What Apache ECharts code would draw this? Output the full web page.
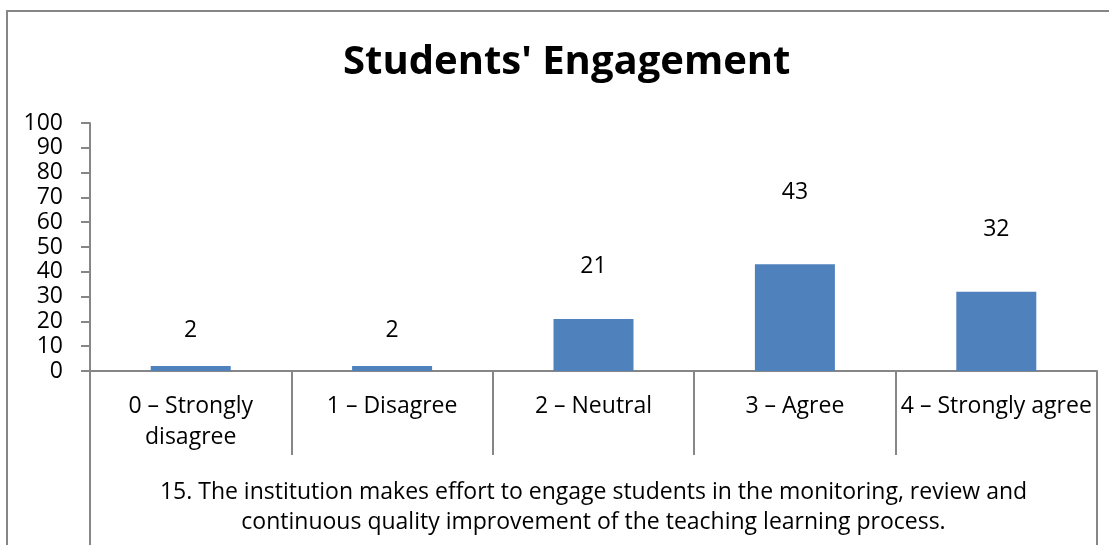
<!DOCTYPE html>
<html>
<head>
<meta charset="utf-8">
<script src="https://cdn.jsdelivr.net/npm/echarts@6/dist/echarts.min.js"></script>
<style>
  html, body { margin: 0; padding: 0; background: #fff; }
  #chart { width: 1109px; height: 545px; }
</style>
</head>
<body>
<div id="chart"></div>
<script>
const titleText = "Students' Engagement"
const categories = ['0 – Strongly\ndisagree', '1 – Disagree', '2 – Neutral', '3 – Agree', '4 – Strongly agree']
const groupLabel = ['15. The institution makes effort to engage students in the monitoring, review and\ncontinuous quality improvement of the teaching learning process.']
const values = [2, 2, 21, 43, 32]

const font = '"Open Sans", "Noto Sans", sans-serif'
const lineColor = '#868686'

const chart = echarts.init(document.getElementById('chart'))

// labels in the original float higher above taller bars
const barData = values.map(v => ({
  value: v,
  label: { distance: 22 + 0.9 * v }
}))

const option = {
  animation: false,
  backgroundColor: '#fff',
  title: {
    text: titleText,
    left: 343,
    top: 43,
    padding: 0,
    textStyle: { fontFamily: font, fontSize: 40, fontWeight: 'bold', color: '#000' }
  },
  graphic: [{
    type: 'rect',
    shape: { x: 7, y: 11, width: 1120, height: 560 },
    style: { fill: 'none', stroke: lineColor, lineWidth: 2 },
    silent: true
  }],
  grid: { left: 90, right: 12, top: 123, bottom: 174 },
  xAxis: [
    {
      type: 'category',
      data: categories,
      position: 'bottom',
      axisLine: { lineStyle: { color: lineColor, width: 2 } },
      axisTick: { show: true, length: 84, lineStyle: { color: lineColor, width: 2 } },
      axisLabel: {
        interval: 0, margin: 20, color: '#000',
        fontFamily: font, fontSize: 23, lineHeight: 31
      }
    },
    {
      type: 'category',
      data: groupLabel,
      position: 'bottom',
      offset: 0,
      axisLine: { show: false },
      axisTick: { show: true, length: 180, lineStyle: { color: lineColor, width: 2 } },
      axisLabel: {
        interval: 0, margin: 106, color: '#000',
        fontFamily: font, fontSize: 23, lineHeight: 30, align: 'center'
      }
    }
  ],
  yAxis: {
    type: 'value',
    min: 0,
    max: 100,
    interval: 10,
    splitLine: { show: false },
    axisLine: { show: true, lineStyle: { color: lineColor, width: 2 } },
    axisTick: { show: true, length: 9, lineStyle: { color: lineColor, width: 2 } },
    axisLabel: { margin: 27, color: '#000', fontFamily: font, fontSize: 23 }
  },
  series: [{
    type: 'bar',
    xAxisIndex: 0,
    data: barData,
    barWidth: 80,
    itemStyle: { color: '#4F81BD' },
    label: {
      show: true,
      position: 'top',
      color: '#000',
      fontFamily: font,
      fontSize: 23
    }
  }]
}

chart.setOption(option)
</script>
</body>
</html>
